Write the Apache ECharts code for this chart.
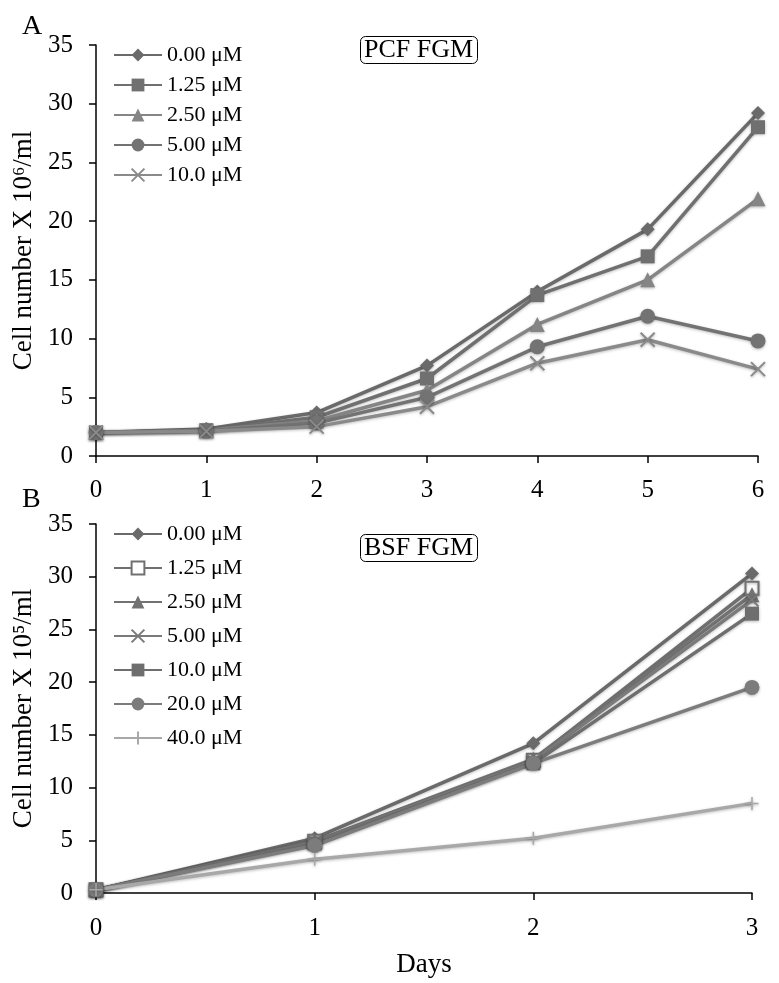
<!DOCTYPE html>
<html><head><meta charset="utf-8">
<script src="https://cdn.jsdelivr.net/npm/echarts@6/dist/echarts.min.js"></script>
<style>html,body{margin:0;padding:0;background:#fff}#c{width:779px;height:983px}</style>
</head><body><div id="c"></div>
<script>
// Panel A (PCF FGM), days 0..6
const daysA = [0, 1, 2, 3, 4, 5, 6];
const namesA = ['0.00 \u03bcM', '1.25 \u03bcM', '2.50 \u03bcM', '5.00 \u03bcM', '10.0 \u03bcM'];
const a000 = [2.0, 2.3, 3.7, 7.7, 14.0, 19.3, 29.2];
const a125 = [2.0, 2.2, 3.3, 6.6, 13.7, 17.0, 28.0];
const a250 = [2.0, 2.2, 3.0, 5.6, 11.2, 15.0, 21.9];
const a500 = [2.0, 2.1, 2.8, 5.0, 9.3, 11.9, 9.8];
const a1000 = [2.0, 2.1, 2.5, 4.2, 7.9, 9.9, 7.4];
// Panel B (BSF FGM), days 0..3
const daysB = [0, 1, 2, 3];
const namesB = ['0.00 \u03bcM', '1.25 \u03bcM', '2.50 \u03bcM', '5.00 \u03bcM', '10.0 \u03bcM', '20.0 \u03bcM', '40.0 \u03bcM'];
const b000 = [0.3, 5.2, 14.2, 30.3];
const b125 = [0.3, 4.9, 12.6, 28.9];
const b250 = [0.3, 4.9, 12.7, 28.3];
const b500 = [0.3, 4.8, 12.5, 27.8];
const b1000 = [0.3, 4.7, 12.3, 26.5];
const b2000 = [0.3, 4.5, 12.3, 19.5];
const b4000 = [0.3, 3.2, 5.2, 8.5];
const yTicks = [0, 5, 10, 15, 20, 25, 30, 35];

const FONT = 'Liberation Serif';
const crossPath = 'path://M0,0L10,10M10,0L0,10';
const plusPath = 'path://M5,0L5,10M0,5L10,5';

function pairs(xs, ys) { return xs.map((x, i) => [x, ys[i]]); }
function ser(name, xs, ys, color, symbol, size, gi, extra) {
  const s = {
    name, type: 'line', xAxisIndex: gi, yAxisIndex: gi,
    data: pairs(xs, ys), symbol, symbolSize: size,
    lineStyle: { color, width: 3.5, shadowColor: 'rgba(0,0,0,0.25)', shadowBlur: 3, shadowOffsetY: 1 },
    itemStyle: { color, shadowColor: 'rgba(0,0,0,0.3)', shadowBlur: 3, shadowOffsetY: 1 },
    z: 3
  };
  if (extra) Object.assign(s.itemStyle, extra);
  return s;
}
const axisCommon = {
  axisLine: { show: true, lineStyle: { color: '#000', width: 1.5 } },
  axisTick: { show: true, length: 7, lineStyle: { color: '#000', width: 1.5 } },
  axisLabel: { color: '#000', fontFamily: FONT, fontSize: 25 },
  splitLine: { show: false }
};
const legendCommon = {
  orient: 'vertical', left: 108, itemWidth: 48, itemHeight: 16,
  textStyle: { fontFamily: FONT, fontSize: 22, color: '#000' }
};
const boxTitle = {
  borderColor: '#000', borderWidth: 1, borderRadius: 5, padding: [1, 5, 1, 4],
  textStyle: { fontFamily: FONT, fontSize: 26, fontWeight: 'normal', color: '#000' }
};
const nameStyle = { fontFamily: FONT, fontSize: 27, color: '#000' };

const chart = echarts.init(document.getElementById('c'));
chart.setOption({
  backgroundColor: '#fff',
  animation: false,
  title: [
    Object.assign({ text: 'PCF FGM', left: 360, top: 36 }, boxTitle),
    Object.assign({ text: 'BSF FGM', left: 360, top: 534 }, boxTitle),
    { text: 'A', left: 17, top: 8, textStyle: { fontFamily: FONT, fontSize: 28, fontWeight: 'normal', color: '#000' } },
    { text: 'B', left: 17, top: 481, textStyle: { fontFamily: FONT, fontSize: 28, fontWeight: 'normal', color: '#000' } }
  ],
  legend: [
    Object.assign({ top: 39, itemGap: 8, data: namesA.map(n => ({ name: n })) }, legendCommon),
    Object.assign({ top: 518, itemGap: 12, data: namesB.map(n => ({ name: n + ' ' })) }, legendCommon)
  ],
  grid: [
    { left: 96, top: 45, width: 662, height: 411 },
    { left: 96, top: 524, width: 656, height: 369 }
  ],
  xAxis: [
    Object.assign({ type: 'value', gridIndex: 0, min: 0, max: 6, interval: 1 }, axisCommon,
      { axisLabel: Object.assign({}, axisCommon.axisLabel, { margin: 22 }) }),
    Object.assign({ type: 'value', gridIndex: 1, min: 0, max: 3, interval: 1, name: 'Days',
      nameLocation: 'middle', nameGap: 58, nameTextStyle: nameStyle }, axisCommon,
      { axisLabel: Object.assign({}, axisCommon.axisLabel, { margin: 23 }) })
  ],
  yAxis: [0, 1].map(gi => Object.assign({
    type: 'value', gridIndex: gi, min: yTicks[0], max: yTicks[yTicks.length - 1], interval: 5,
    name: gi === 0 ? 'Cell number X 10\u2076/ml' : 'Cell number X 10\u2075/ml',
    nameLocation: 'middle', nameRotate: 90, nameGap: 58,
    nameTextStyle: nameStyle
  }, axisCommon, { axisLabel: Object.assign({}, axisCommon.axisLabel, { margin: 23 }) })),
  series: [
    ser(namesA[0], daysA, a000, '#6a6a6a', 'diamond', 14, 0),
    ser(namesA[1], daysA, a125, '#707070', 'rect', 14, 0),
    ser(namesA[2], daysA, a250, '#858585', 'triangle', 15, 0),
    ser(namesA[3], daysA, a500, '#737373', 'circle', 15, 0),
    ser(namesA[4], daysA, a1000, '#8a8a8a', crossPath, 14, 0, { borderWidth: 2, borderColor: '#8a8a8a' }),
    ser(namesB[0] + ' ', daysB, b000, '#6a6a6a', 'diamond', 14, 1),
    ser(namesB[1] + ' ', daysB, b125, '#707070', 'emptyRect', 13, 1, { borderWidth: 1.5 }),
    ser(namesB[2] + ' ', daysB, b250, '#727272', 'triangle', 15, 1),
    ser(namesB[3] + ' ', daysB, b500, '#7a7a7a', crossPath, 13, 1, { borderWidth: 2, borderColor: '#7a7a7a' }),
    ser(namesB[4] + ' ', daysB, b1000, '#6e6e6e', 'rect', 14, 1),
    ser(namesB[5] + ' ', daysB, b2000, '#7c7c7c', 'circle', 15, 1),
    ser(namesB[6] + ' ', daysB, b4000, '#a8a8a8', plusPath, 13, 1, { borderWidth: 1.5, borderColor: '#a8a8a8' })
  ]
});
</script>
</body></html>
